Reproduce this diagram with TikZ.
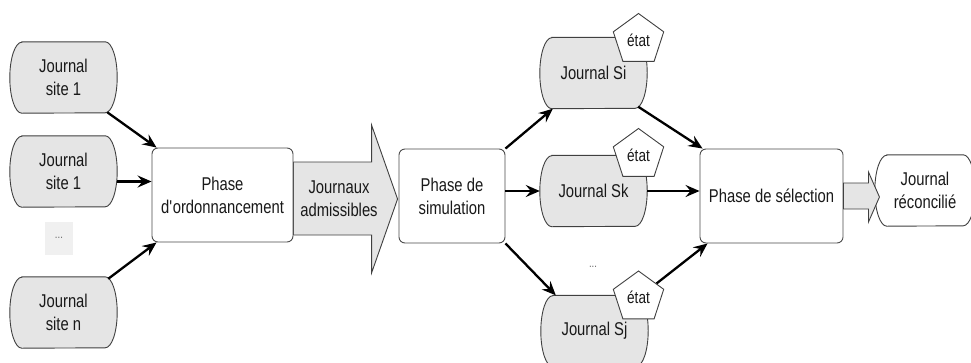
\documentclass[tikz,border=0pt]{standalone}
\usepackage{fontspec}
\setmainfont{Liberation Sans}[FakeStretch=0.8]
\usetikzlibrary{shapes.geometric,arrows.meta,backgrounds}

\tikzset{
  txt/.style={font=\fontsize{18.5}{23}\selectfont, align=center, text=black!90},
  jrnl/.style={txt, minimum width=107pt, minimum height=71pt, inner sep=0pt},
  phase/.style={txt, draw=black!70, line width=0.9pt, rounded corners=6pt, fill=white, inner sep=0pt},
  etat/.style={regular polygon, regular polygon sides=5, draw=black!75, line width=0.9pt, fill=white,
    minimum size=53pt, inner sep=0pt, font=\fontsize{17}{20}\selectfont, text=black!90},
  dotsbox/.style={fill=gray!12, minimum width=28pt, minimum height=33pt, inner sep=0pt,
    font=\fontsize{12}{14}\selectfont, text=black!60},
  conn/.style={-{Stealth[length=14pt,width=12pt,inset=5pt]}, line width=2.3pt, black},
  fatarrow/.style={draw=black!75, line width=0.9pt, fill=gray!20},
}

\newcommand\journalshape[2]{%
  \path[draw=black!75, line width=0.9pt, fill=#2]
    ([xshift=12pt]#1.north west) -- ([xshift=-12pt]#1.north east)
    arc[start angle=90, end angle=-90, x radius=12pt, y radius=35.5pt]
    -- ([xshift=12pt]#1.south west)
    arc[start angle=270, end angle=90, x radius=12pt, y radius=35.5pt] -- cycle;}

\begin{document}
\begin{tikzpicture}[x=1pt,y=1pt]
\useasboundingbox (0,0) rectangle (971,-362);

% left journals
\node[jrnl] (J1) at (63.5,-77.5) {Journal\\site 1};
\node[jrnl] (J2) at (63.5,-171.5) {Journal\\site 1};
\node[dotsbox] (D1) at (59,-238) {...};
\node[jrnl] (J3) at (63.5,-312.5) {Journal\\site n};

% phases
\node[phase, minimum width=141pt, minimum height=94pt] (ordo) at (222.5,-195) {Phase\\d\textquotesingle ordonnancement};
\node[phase, minimum width=106pt, minimum height=94pt] (sim) at (452,-196) {Phase de\\simulation};
\node[phase, minimum width=143pt, minimum height=94pt] (sel) at (771.5,-196) {Phase de sélection};

% simulated journals
\node[jrnl] (Si) at (593.5,-73) {Journal Si};
\node[jrnl] (Sk) at (593.5,-191) {Journal Sk};
\node[jrnl] (Sj) at (594.5,-331) {Journal Sj};
\node[txt, font=\fontsize{12}{14}\selectfont, text=black!60] (D2) at (593,-267) {...};

\node[etat] (E1) at (638.5,-40) {état};
\node[etat] (E2) at (638.5,-155) {état};
\node[etat] (E3) at (638.5,-297.5) {état};

% result
\node[jrnl, minimum width=100pt] (R) at (925,-190.5) {Journal\\réconcilié};

% big arrow label
\node[txt] (JA) at (339,-199) {Journaux\\admissibles};

\begin{scope}[on background layer]
  \fill[white] (0,0) rectangle (971,-362);
  \journalshape{J1}{gray!20}
  \journalshape{J2}{gray!20}
  \journalshape{J3}{gray!20}
  \journalshape{Si}{gray!20}
  \journalshape{Sk}{gray!20}
  \journalshape{Sj}{gray!20}
  \journalshape{R}{white}
  % big arrow
  \path[fatarrow] ([yshift=33pt]ordo.east) -- ([xshift=-27pt,yshift=34pt]sim.west)
    -- ([xshift=-27pt,yshift=71pt]sim.west) -- ([xshift=-1pt,yshift=-3pt]sim.west)
    -- ([xshift=-27pt,yshift=-77pt]sim.west) -- ([xshift=-27pt,yshift=-39pt]sim.west)
    -- ([yshift=-40pt]ordo.east) -- cycle;
\end{scope}

% small arrow
\path[fatarrow] ([yshift=13pt]sel.east) -- ([xshift=25pt,yshift=13pt]sel.east)
  -- ([xshift=25pt,yshift=24pt]sel.east) -- ([xshift=36pt,yshift=-1pt]sel.east)
  -- ([xshift=25pt,yshift=-26pt]sel.east) -- ([xshift=25pt,yshift=-13pt]sel.east)
  -- ([yshift=-13pt]sel.east) -- cycle;

% connectors
\coordinate (j2o) at ([yshift=-10pt]J2.east);
\draw[conn] ([shift={(-10pt,1pt)}]J1.south east) -- ([xshift=5pt]ordo.north west);
\draw[conn] (j2o) -- (j2o -| ordo.west);
\draw[conn] ([shift={(-9pt,-2pt)}]J3.north east) -- ([xshift=5pt]ordo.south west);

\draw[conn] (sim.north east) -- ([xshift=13pt]Si.south west);
\draw[conn] (Sk.west -| sim.east) -- (Sk.west);
\draw[conn] (sim.south east) -- ([xshift=15pt]Sj.north west);

\draw[conn] ([shift={(-9pt,2pt)}]Si.south east) -- ([xshift=3pt]sel.north west);
\draw[conn] (Sk.east) -- (Sk.east -| sel.west);
\draw[conn] ([shift={(18pt,14pt)}]E3.center) -- ([xshift=8pt]sel.south west);
\end{tikzpicture}
\end{document}
